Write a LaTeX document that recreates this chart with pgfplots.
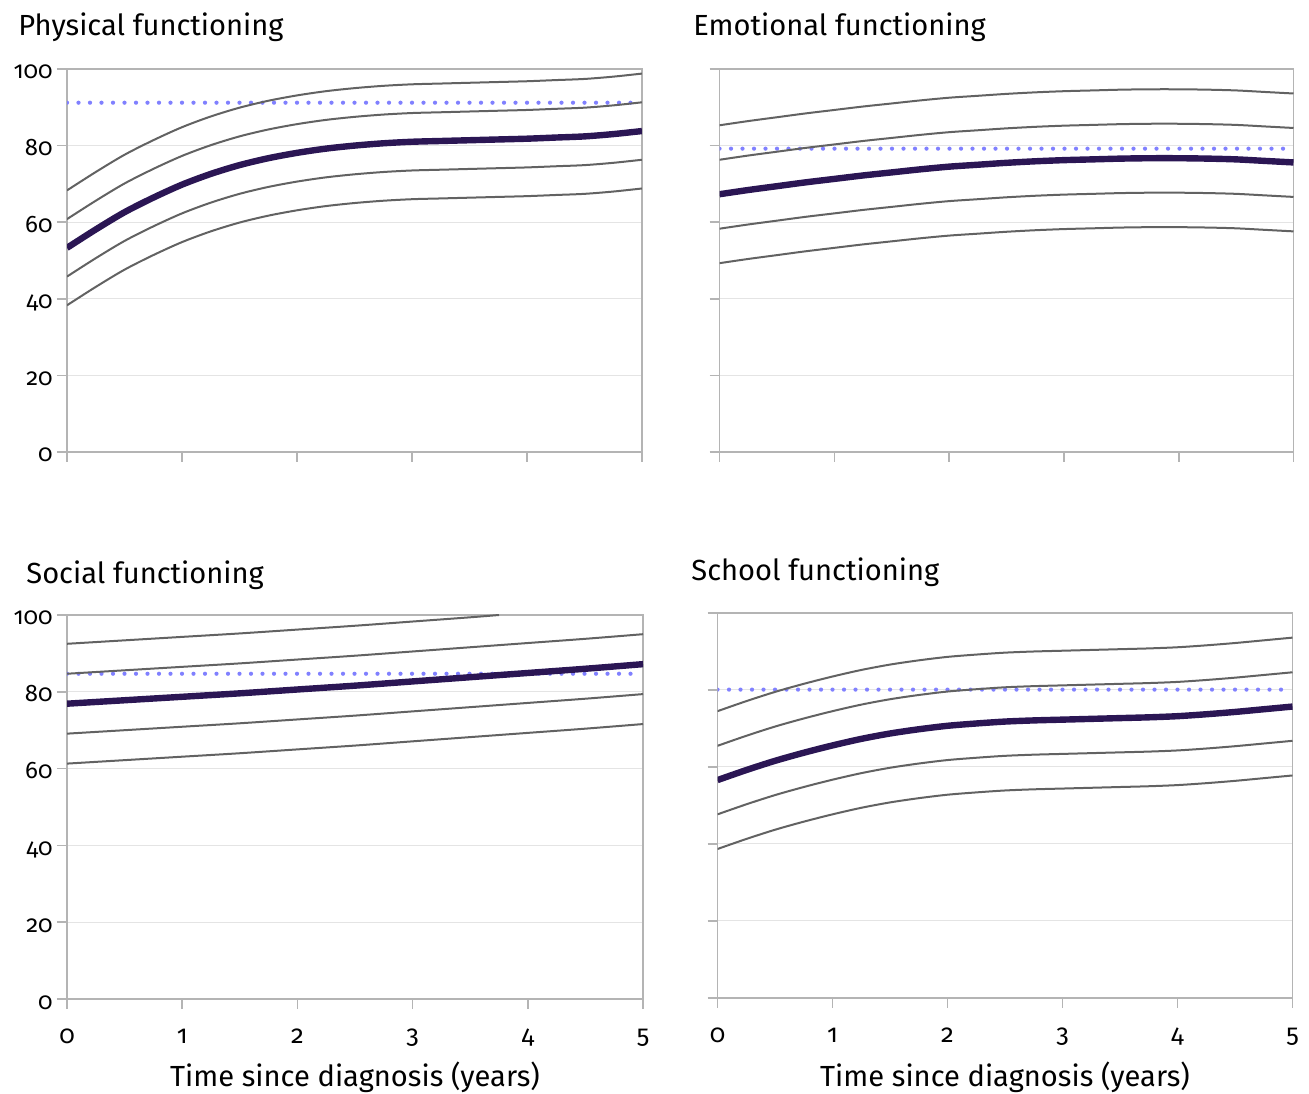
\documentclass[border=0pt]{standalone}
\usepackage{fontspec}
\setmainfont{Fira Sans}[Numbers=OldStyle]
\usepackage{pgfplots}
\usepackage{pgfplotstable}
\pgfplotsset{compat=1.18}

\definecolor{maincol}{HTML}{2B1654}
\definecolor{sdcol}{HTML}{626262}
\definecolor{dotcol}{HTML}{8080FF}
\definecolor{gridcol}{HTML}{E4E4E4}
\definecolor{axcol}{HTML}{B4B4B4}

\pgfplotstableread{
x m u1 u2 l1 l2
0 53.3 60.8 68.3 45.8 38.3
0.25 58.1 65.6 73.1 50.6 43.1
0.5 62.6 70.1 77.6 55.1 47.6
0.75 66.4 73.9 81.4 58.9 51.4
1 69.8 77.3 84.8 62.3 54.8
1.25 72.6 80.1 87.6 65.1 57.6
1.5 74.9 82.4 89.9 67.4 59.9
1.75 76.7 84.2 91.7 69.2 61.7
2 78.1 85.6 93.1 70.6 63.1
2.25 79.2 86.7 94.2 71.7 64.2
2.5 80.0 87.5 95.0 72.5 65.0
2.75 80.6 88.1 95.6 73.1 65.6
3 81.0 88.5 96.0 73.5 66.0
3.25 81.2 88.7 96.2 73.7 66.2
3.5 81.4 88.9 96.4 73.9 66.4
3.75 81.6 89.1 96.6 74.1 66.6
4 81.8 89.3 96.8 74.3 66.8
4.25 82.1 89.6 97.1 74.6 67.1
4.5 82.4 89.9 97.4 74.9 67.4
4.75 83.0 90.5 98.0 75.5 68.0
5 83.8 91.3 98.8 76.3 68.8
}\physical

\pgfplotstableread{
x m u1 u2 l1 l2
0 67.3 76.3 85.3 58.3 49.3
0.25 68.4 77.4 86.4 59.4 50.4
0.5 69.4 78.4 87.4 60.4 51.4
0.75 70.4 79.4 88.4 61.4 52.4
1 71.3 80.3 89.3 62.3 53.3
1.25 72.2 81.2 90.2 63.2 54.2
1.5 73.0 82.0 91.0 64.0 55.0
1.75 73.8 82.8 91.8 64.8 55.8
2 74.5 83.5 92.5 65.5 56.5
2.25 75.0 84.0 93.0 66.0 57.0
2.5 75.5 84.5 93.5 66.5 57.5
2.75 75.9 84.9 93.9 66.9 57.9
3 76.2 85.2 94.2 67.2 58.2
3.25 76.4 85.4 94.4 67.4 58.4
3.5 76.6 85.6 94.6 67.6 58.6
3.75 76.7 85.7 94.7 67.7 58.7
4 76.7 85.7 94.7 67.7 58.7
4.25 76.6 85.6 94.6 67.6 58.6
4.5 76.4 85.4 94.4 67.4 58.4
4.75 76.0 85.0 94.0 67.0 58.0
5 75.6 84.6 93.6 66.6 57.6
}\emotional

\pgfplotstableread{
x m u1 l1 l2
0 76.9 84.7 69.1 61.3
0.5 77.8 85.6 70.0 62.2
1 78.7 86.5 70.9 63.1
1.5 79.6 87.4 71.8 64.0
2 80.6 88.4 72.8 65.0
2.5 81.6 89.4 73.8 66.0
3 82.7 90.5 74.9 67.1
3.5 83.8 91.6 76.0 68.2
4 84.9 92.7 77.1 69.3
4.5 86.0 93.8 78.2 70.4
5 87.2 95.0 79.4 71.6
}\social

\pgfplotstableread{
x u2
0 92.5
0.5 93.4
1 94.3
1.5 95.2
2 96.2
2.5 97.2
3 98.3
3.5 99.4
3.75 100.0
}\socialtop

\pgfplotstableread{
x m u1 u2 l1 l2
0 56.6 65.5 74.5 47.7 38.7
0.25 59.2 68.1 77.1 50.3 41.3
0.5 61.6 70.5 79.5 52.7 43.7
0.75 63.7 72.6 81.6 54.8 45.8
1 65.6 74.5 83.5 56.7 47.7
1.25 67.3 76.2 85.2 58.4 49.4
1.5 68.7 77.6 86.6 59.8 50.8
1.75 69.8 78.7 87.7 60.9 51.9
2 70.7 79.6 88.6 61.8 52.8
2.25 71.3 80.2 89.2 62.4 53.4
2.5 71.8 80.7 89.7 62.9 53.9
2.75 72.1 81.0 90.0 63.2 54.2
3 72.3 81.2 90.2 63.4 54.4
3.25 72.5 81.4 90.4 63.6 54.6
3.5 72.7 81.6 90.6 63.8 54.8
3.75 72.9 81.8 90.8 64.0 55.0
4 73.2 82.1 91.1 64.3 55.3
4.25 73.7 82.6 91.6 64.8 55.8
4.5 74.3 83.2 92.2 65.4 56.4
4.75 75.0 83.9 92.9 66.1 57.1
5 75.7 84.6 93.6 66.8 57.8
}\school

\pgfplotsset{
  panel/.style={
    scale only axis, height=191.5bp,
    xmin=0, xmax=5, ymin=0, ymax=100,
    xtick={0,1,2,3,4,5}, ytick={0,20,40,60,80,100},
    ymajorgrids, grid style={gridcol, line width=0.5bp},
    axis line style={axcol, line width=0.8bp},
    tick style={axcol, line width=0.8bp},
    tick align=outside, major tick length=5bp,
    xtick pos=left, ytick pos=left,
    yticklabel style={font=\fontsize{12}{13}\selectfont, text=black, anchor=base east, inner sep=0pt, xshift=-2bp, yshift=-5bp},
    xticklabel style={font=\fontsize{12.8}{14}\selectfont, text=black, anchor=base, inner sep=0pt, yshift=-17bp},
    /pgf/number format/assume math mode=true,
    clip=true,
  },
  sd/.style={sdcol, line width=1bp, smooth},
  med/.style={maincol, line width=3.2bp, smooth},
  ref/.style={dotcol, line width=2.1bp, dash pattern=on 0pt off 5.75bp, line cap=round},
}

\newcommand{\titlefont}{\fontsize{14.6}{17}\selectfont}

\begin{document}
\begin{tikzpicture}
\useasboundingbox (0,0) rectangle (654.5bp,547bp);

% Physical functioning
\begin{axis}[panel, at={(33.5bp,321bp)}, anchor=south west, width=287.5bp,
  xticklabels={}, yticklabels={0,20,40,60,80,100}]
\addplot[ref] coordinates {(0,91.2) (4.97,91.2)};
\addplot[sd] table[x=x,y=u2] {\physical};
\addplot[sd] table[x=x,y=u1] {\physical};
\addplot[sd] table[x=x,y=l1] {\physical};
\addplot[sd] table[x=x,y=l2] {\physical};
\addplot[med] table[x=x,y=m] {\physical};
\end{axis}

% Emotional functioning
\begin{axis}[panel, at={(359.75bp,321bp)}, anchor=south west, width=287bp,
  xticklabels={}, yticklabels={}]
\addplot[ref] coordinates {(0,79.2) (4.97,79.2)};
\addplot[sd] table[x=x,y=u2] {\emotional};
\addplot[sd] table[x=x,y=u1] {\emotional};
\addplot[sd] table[x=x,y=l1] {\emotional};
\addplot[sd] table[x=x,y=l2] {\emotional};
\addplot[med] table[x=x,y=m] {\emotional};
\end{axis}

% Social functioning
\begin{axis}[panel, at={(33.5bp,47.5bp)}, anchor=south west, width=288bp, height=192bp,
  xticklabels={0,1,2,3,4,5}, yticklabels={0,20,40,60,80,100}]
\addplot[ref] coordinates {(0,84.7) (4.97,84.7)};
\addplot[sd] table[x=x,y=u2] {\socialtop};
\addplot[sd] table[x=x,y=u1] {\social};
\addplot[sd] table[x=x,y=l1] {\social};
\addplot[sd] table[x=x,y=l2] {\social};
\addplot[med] table[x=x,y=m] {\social};
\end{axis}

% School functioning
\begin{axis}[panel, at={(358.75bp,48bp)}, anchor=south west, width=287.5bp, height=192.5bp,
  xticklabels={0,1,2,3,4,5}, yticklabels={}]
\addplot[ref] coordinates {(0,80.1) (4.97,80.1)};
\addplot[sd] table[x=x,y=u2] {\school};
\addplot[sd] table[x=x,y=u1] {\school};
\addplot[sd] table[x=x,y=l1] {\school};
\addplot[sd] table[x=x,y=l2] {\school};
\addplot[med] table[x=x,y=m] {\school};
\end{axis}

\node[anchor=base west, inner sep=0pt, font=\titlefont] at (9bp,529bp) {Physical functioning};
\node[anchor=base west, inner sep=0pt, font=\titlefont] at (346.5bp,529bp) {Emotional functioning};
\node[anchor=base west, inner sep=0pt, font=\titlefont] at (13bp,255bp) {Social functioning};
\node[anchor=base west, inner sep=0pt, font=\titlefont] at (345.5bp,256.5bp) {School functioning};
\node[anchor=base, inner sep=0pt, font=\titlefont] at (177.5bp,4bp) {Time since diagnosis (years)};
\node[anchor=base, inner sep=0pt, font=\titlefont] at (502.5bp,4bp) {Time since diagnosis (years)};
\end{tikzpicture}
\end{document}
